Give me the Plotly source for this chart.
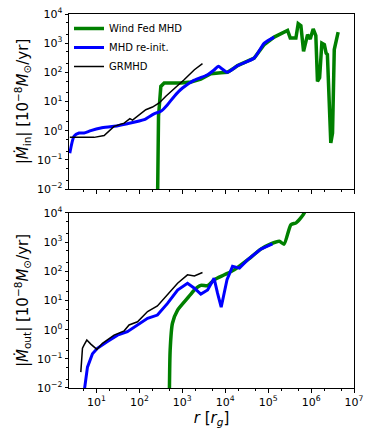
import plotly.graph_objects as go

# ---------------- data ----------------
# Top panel: |Mdot_in|
wind_in_r = [262, 279, 316, 378, 925, 1590, 2700, 4620, 7940, 11300, 16200, 19400, 47300,
             81300, 138000, 283000, 327000, 443000, 501000, 579000, 668000, 828000, 955000,
             1120000, 1290000, 1410000, 1580000, 1780000, 2040000, 2240000, 2400000,
             2880000, 3160000, 3470000, 4270000]
wind_in_v = [0.001, 3.1, 33, 43, 43, 47, 59, 90, 97, 100, 141, 170, 310,
             900, 1620, 2750, 1510, 1510, 4680, 3980, 525, 1950, 1380,
             3090, 1820, 49, 65, 1000, 890, 457, 407,
             0.38, 0.83, 603, 2400]

reinit_in_r = [2.39, 3.01, 3.94, 5.13, 7.38, 12.6, 25.7, 52.5, 129, 219, 316, 452, 646,
               1010, 1910, 3890, 5500, 6920, 8500, 11200, 19500, 47300, 81300, 138000]
reinit_in_v = [0.17, 0.65, 0.83, 0.83, 1.0, 1.23, 1.41, 1.74, 2.4, 3.8, 4.6, 7.8, 15,
               29, 54, 83, 120, 162, 130, 100, 170, 310, 1000, 1620]

grmhd_in_r = [2.39, 8.83, 15.1, 25.7, 44.2, 60.0, 69.2, 100, 141, 202, 289, 413, 646,
              1100, 1910, 2950]
grmhd_in_v = [0.59, 0.59, 0.68, 1.41, 1.82, 2.6, 2.3, 3.5, 5.25, 6.46, 8.91, 15.1, 26.9,
              56, 123, 200]

# Bottom panel: |Mdot_out|
wind_out_r = [494, 521, 589, 776, 1320, 1910, 2700, 3890, 5500, 9550, 16200, 33100, 67600,
              115000, 182000, 234000, 339000, 447000, 575000, 692000, 800000]
wind_out_v = [0.001, 0.2, 1.66, 4.68, 12, 23, 33, 32, 51, 76, 112, 245, 575,
              871, 1070, 851, 3980, 4570, 6760, 10000, 20000]

reinit_out_r = [4.98, 6.17, 8.07, 10.5, 18.0, 30.9, 52.5, 90.4, 155, 263, 452, 776, 1320,
                1910, 2700, 3890, 5500, 6610, 8050, 11000, 14800, 21400, 33100, 67600, 126000]
reinit_out_v = [0.005, 0.052, 0.15, 0.23, 0.39, 0.65, 0.85, 1.45, 2.45, 3.16, 7.94, 22.9, 38.9,
                26.3, 16.6, 22.9, 57.5, 17.8, 5.89, 51.3, 148, 129, 245, 575, 871]

grmhd_out_r = [4.32, 4.72, 5.16, 5.96, 7.38, 10.2, 13.8, 25.7, 44.2, 57.5, 90.4, 155, 263,
               452, 776, 1320, 1910, 2950]
grmhd_out_v = [0.035, 0.23, 0.30, 0.44, 0.32, 0.21, 0.34, 0.65, 0.91, 1.45, 1.86, 4.17, 6.46,
               15.5, 38.9, 75.9, 69.2, 91.2]

x_tick_vals = [1e1, 1e2, 1e3, 1e4, 1e5, 1e6, 1e7]
x_tick_text = ["10<sup>1</sup>", "10<sup>2</sup>", "10<sup>3</sup>", "10<sup>4</sup>",
               "10<sup>5</sup>", "10<sup>6</sup>", "10<sup>7</sup>"]
y_tick_vals = [1e-2, 1e-1, 1e0, 1e1, 1e2, 1e3, 1e4]
y_tick_text = ["10<sup>\u22122</sup>", "10<sup>\u22121</sup>", "10<sup>0</sup>", "10<sup>1</sup>",
               "10<sup>2</sup>", "10<sup>3</sup>", "10<sup>4</sup>"]

# ---------------- figure ----------------
GREEN = "#008000"
BLUE = "#0000ff"
BLACK = "#000000"

fig = go.Figure()

fig.add_trace(go.Scatter(x=wind_in_r, y=wind_in_v, mode="lines", name="Wind Fed MHD",
                         line=dict(color=GREEN, width=3.5), xaxis="x", yaxis="y"))
fig.add_trace(go.Scatter(x=reinit_in_r, y=reinit_in_v, mode="lines", name="MHD re-init.",
                         line=dict(color=BLUE, width=3, shape="spline", smoothing=0.6),
                         xaxis="x", yaxis="y"))
fig.add_trace(go.Scatter(x=grmhd_in_r, y=grmhd_in_v, mode="lines", name="GRMHD",
                         line=dict(color=BLACK, width=1.5), xaxis="x", yaxis="y"))

fig.add_trace(go.Scatter(x=wind_out_r, y=wind_out_v, mode="lines", showlegend=False,
                         line=dict(color=GREEN, width=3.5, shape="spline", smoothing=0.6),
                         xaxis="x2", yaxis="y2"))
fig.add_trace(go.Scatter(x=reinit_out_r, y=reinit_out_v, mode="lines", showlegend=False,
                         line=dict(color=BLUE, width=3), xaxis="x2", yaxis="y2"))
fig.add_trace(go.Scatter(x=grmhd_out_r, y=grmhd_out_v, mode="lines", showlegend=False,
                         line=dict(color=BLACK, width=1.5), xaxis="x2", yaxis="y2"))

FONT = "DejaVu Sans"
axis_common = dict(type="log", showline=True, mirror=True, linecolor="black", linewidth=1,
                   ticks="outside", ticklen=3.5, tickwidth=1, tickcolor="black",
                   showgrid=False, zeroline=False, automargin=False,
                   ticklabeloverflow="allow",
                   minor=dict(ticks="outside", ticklen=2, tickcolor="black", showgrid=False),
                   tickfont=dict(family=FONT, size=11, color="black"))

xr = [0.36, 7]
yr = [-2, 4]

ytitle_in = "|<i>Ṁ</i><sub>in</sub>| [10<sup>\u22128</sup><i>M</i><sub>\u2299</sub>/yr]"
ytitle_out = "|<i>Ṁ</i><sub>out</sub>| [10<sup>\u22128</sup><i>M</i><sub>\u2299</sub>/yr]"

fig.update_layout(
    width=374, height=441,
    margin=dict(l=69, r=20, t=14, b=53, autoexpand=False),
    paper_bgcolor="white", plot_bgcolor="white",
    font=dict(family=FONT, color="black"),
    showlegend=True,
    hovermode=False,
    legend=dict(x=0.0, y=1.0, xanchor="left", yanchor="top",
                bgcolor="rgba(255,255,255,0)", borderwidth=0,
                font=dict(family=FONT, size=10), itemwidth=30, tracegroupgap=0),
    xaxis=dict(axis_common, domain=[0, 1], range=xr, anchor="y",
               tickvals=x_tick_vals, ticktext=x_tick_text, showticklabels=False),
    yaxis=dict(axis_common, domain=[0.532, 1], range=yr, anchor="x",
               tickvals=y_tick_vals, ticktext=y_tick_text,
               title=dict(text=ytitle_in, font=dict(family=FONT, size=15), standoff=4)),
    xaxis2=dict(axis_common, domain=[0, 1], range=xr, anchor="y2",
                tickvals=x_tick_vals, ticktext=x_tick_text,
                title=dict(text="<i>r</i> [<i>r</i><sub><i>g</i></sub>]",
                           font=dict(family=FONT, size=15), standoff=2)),
    yaxis2=dict(axis_common, domain=[0, 0.468], range=yr, anchor="x2",
                tickvals=y_tick_vals, ticktext=y_tick_text,
                title=dict(text=ytitle_out, font=dict(family=FONT, size=15), standoff=4)),
)

# remove the browser's default page margin so the figure sits at the window origin
fig.write_html("out.html", config={"displayModeBar": False},
               post_script="document.body.style.margin='0';")
